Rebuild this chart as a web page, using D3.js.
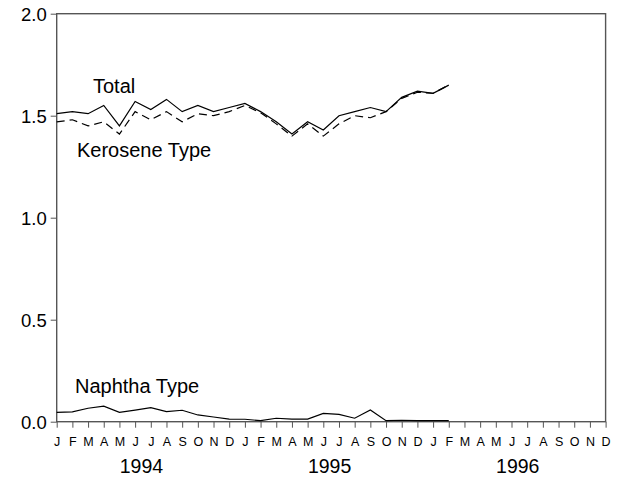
<!DOCTYPE html>
<html>
<head>
<meta charset="utf-8">
<script src="https://cdn.jsdelivr.net/npm/d3@7"></script>
<style>
  body { margin: 0; background: #fff; }
  text { font-family: Arial, "Liberation Sans", sans-serif; fill: #000; }
</style>
</head>
<body>
<script>
// monthly series, Jan 1994 - Feb 1996
var monthLabels = ["J","F","M","A","M","J","J","A","S","O","N","D"];
var years = ["1994", "1995", "1996"];
var total = [1.51, 1.52, 1.51, 1.55, 1.45, 1.57, 1.53, 1.58, 1.52, 1.55, 1.52, 1.54, 1.56,
             1.52, 1.47, 1.41, 1.47, 1.43, 1.50, 1.52, 1.54, 1.52, 1.59, 1.62, 1.61, 1.65];
var kerosene = [1.47, 1.48, 1.45, 1.47, 1.41, 1.52, 1.48, 1.52, 1.47, 1.51, 1.50, 1.52, 1.55,
                1.515, 1.46, 1.40, 1.46, 1.40, 1.46, 1.50, 1.49, 1.52, 1.585, 1.615, 1.61, 1.65];
var naphtha = [0.046, 0.048, 0.066, 0.076, 0.046, 0.057, 0.069, 0.049, 0.056, 0.033, 0.023, 0.013, 0.012,
               0.005, 0.017, 0.013, 0.013, 0.041, 0.036, 0.017, 0.057, 0.005, 0.007, 0.005, 0.005, 0.005];
var yTicks = [0, 0.5, 1.0, 1.5, 2.0];

var W = 624, H = 478;
var plotL = 56.7, plotR = 605.6, plotT = 13.7, plotB = 421.7;

var svg = d3.select("body").append("svg")
  .attr("width", W).attr("height", H);

var nMonths = monthLabels.length * years.length;
var x = d3.scaleLinear().domain([0, nMonths - 1]).range([plotL, plotR]);
var y = d3.scaleLinear().domain([0, 2]).range([plotB, plotT]);

// frame
svg.append("rect")
  .attr("x", plotL).attr("y", plotT)
  .attr("width", plotR - plotL).attr("height", plotB - plotT)
  .attr("fill", "none").attr("stroke", "#555").attr("stroke-width", 1.4);

// y axis
var yAxis = d3.axisLeft(y).tickValues(yTicks).tickFormat(d3.format(".1f"))
  .tickSize(6).tickPadding(4);
var gy = svg.append("g").attr("transform", "translate(" + plotL + ",0)").call(yAxis);
gy.select(".domain").remove();
gy.selectAll("line").attr("stroke", "#555");
gy.selectAll("text").style("font-size", "18.5px").attr("dy", "0.36em");

// x axis: one tick per month
var monthIdx = d3.range(nMonths);
var xAxis = d3.axisBottom(x).tickValues(monthIdx)
  .tickFormat(function (i) { return monthLabels[i % 12]; })
  .tickSize(6).tickPadding(9);
var gx = svg.append("g").attr("transform", "translate(0," + plotB + ")").call(xAxis);
gx.select(".domain").remove();
gx.selectAll("line").attr("stroke", "#555");
gx.selectAll("text").style("font-size", "12.5px");

// year labels
svg.selectAll(".year").data(years).enter().append("text")
  .attr("class", "year")
  .attr("x", function (d, i) { return x(i * 12 + 5.4); })
  .attr("y", 472.5)
  .attr("text-anchor", "middle")
  .style("font-size", "19.5px")
  .text(function (d) { return d; });

// lines
var line = d3.line()
  .x(function (d, i) { return x(i); })
  .y(function (d) { return y(d); });

svg.append("path").datum(kerosene)
  .attr("d", line).attr("fill", "none")
  .attr("stroke", "#000").attr("stroke-width", 1.2)
  .attr("stroke-dasharray", "8,5");

svg.append("path").datum(total)
  .attr("d", line).attr("fill", "none")
  .attr("stroke", "#000").attr("stroke-width", 1.2);

svg.append("path").datum(naphtha)
  .attr("d", line).attr("fill", "none")
  .attr("stroke", "#000").attr("stroke-width", 1.2);

// series labels
var seriesLabels = [
  { name: "Total", x: 93, y: 93 },
  { name: "Kerosene Type", x: 77, y: 157 },
  { name: "Naphtha Type", x: 75, y: 393 }
];
svg.selectAll(".slabel").data(seriesLabels).enter().append("text")
  .attr("class", "slabel")
  .attr("x", function (d) { return d.x; })
  .attr("y", function (d) { return d.y; })
  .style("font-size", "20px")
  .text(function (d) { return d.name; });
</script>
</body>
</html>
